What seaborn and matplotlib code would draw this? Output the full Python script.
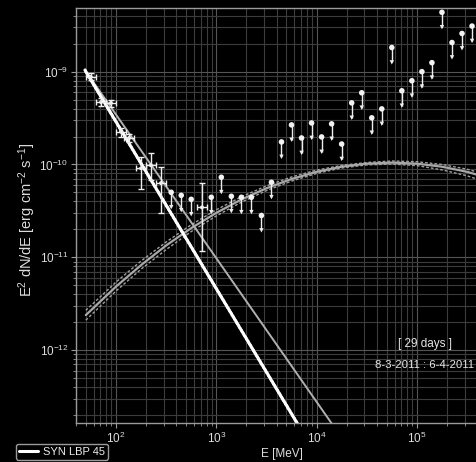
import numpy as np
import pandas as pd
import matplotlib
matplotlib.use("Agg")
import matplotlib.pyplot as plt
import seaborn as sns

# ---- spectral points: energy [MeV], E^2 dN/dE [erg cm^-2 s^-1] ----
det_E = [56, 71, 89, 112, 135, 178, 223, 281, 720]
det_E_lo = [50, 63, 79, 100, 120, 159, 199, 250, 642]
det_E_hi = [63, 80, 100, 126, 151, 200, 250, 315, 808]
det_F = [8.8e-10, 4.7e-10, 4.6e-10, 2.25e-10, 1.93e-10, 9.1e-11, 9.8e-11, 6.3e-11, 3.45e-11]
det_F_lo = [8.1e-10, 4.3e-10, 4.2e-10, 2.0e-10, 1.73e-10, 5.5e-11, 6.8e-11, 3.0e-11, 1.18e-11]
det_F_hi = [9.6e-10, 5.15e-10, 5.0e-10, 2.5e-10, 2.15e-10, 1.2e-10, 1.32e-10, 9.4e-11, 6.3e-11]

# upper limits
ul_E = [355, 447, 562, 891, 1122, 1413, 1778, 2239, 2818, 3548, 4467, 5623, 7079,
        8913, 11220, 14125, 17783, 22387, 28184, 35481, 44668, 56234, 70795,
        89125, 112202, 141254, 177828, 223872, 281838, 354813]
ul_F = [5.01e-11, 4.65e-11, 4.21e-11, 4.43e-11, 7.28e-11, 4.54e-11, 4.43e-11,
        4.43e-11, 2.82e-11, 6.43e-11, 1.75e-10, 2.67e-10, 1.93e-10, 2.80e-10,
        1.98e-10, 2.74e-10, 1.66e-10, 4.61e-10, 5.92e-10, 3.18e-10, 3.97e-10,
        1.82e-9, 6.22e-10, 7.98e-10, 1.0e-9, 1.25e-9, 4.36e-9, 2.06e-9, 2.58e-9, 3.10e-9]

# ---- model components ----
syn_E = [49, 8400]
syn_F = [1.04e-9, 1.0e-13]
syn_F_hi = [1.076e-9, 1.035e-13]
syn_F_lo = [1.005e-9, 0.966e-13]

pl2_E = [49, 19300]
pl2_F = [1.04e-9, 1.0e-13]

ic_E = [50, 100, 178, 316, 562, 1000, 1778, 3162, 5623, 10000, 17783, 31623,
        56234, 100000, 177828, 316228, 562341]
ic_F = [2.38e-12, 4.83e-12, 8.24e-12, 1.34e-11, 2.06e-11, 3.01e-11, 4.19e-11,
        5.54e-11, 6.97e-11, 8.33e-11, 9.46e-11, 1.02e-10, 1.047e-10, 1.02e-10,
        9.46e-11, 8.33e-11, 6.97e-11]
ic_F_hi = [2.68e-12, 5.40e-12, 9.12e-12, 1.46e-11, 2.24e-11, 3.25e-11, 4.48e-11,
           5.88e-11, 7.33e-11, 8.69e-11, 9.77e-11, 1.05e-10, 1.09e-10, 1.07e-10,
           1.00e-10, 8.89e-11, 7.50e-11]
ic_F_lo = [2.10e-12, 4.33e-12, 7.45e-12, 1.21e-11, 1.89e-11, 2.79e-11, 3.92e-11,
           5.23e-11, 6.62e-11, 8.00e-11, 9.16e-11, 9.89e-11, 1.01e-10, 9.73e-11,
           8.75e-11, 7.55e-11, 6.15e-11]

sns.set_theme(style="dark")
plt.rcParams["font.family"] = ["Liberation Sans", "DejaVu Sans"]
plt.rcParams["mathtext.fontset"] = "custom"
plt.rcParams["mathtext.rm"] = "Liberation Sans"
plt.rcParams["mathtext.it"] = "Liberation Sans:italic"
plt.rcParams["mathtext.bf"] = "Liberation Sans:bold"

fig = plt.figure(figsize=(4.77, 4.62), dpi=100, facecolor="black")
ax = fig.add_axes([0.1593, 0.0851, 0.8638, 0.8970])
ax.set_facecolor("black")
ax.set_xscale("log")
ax.set_yscale("log")
ax.set_xlim(39.9, 5.12e5)
ax.set_ylim(1.65e-13, 4.82e-9)

ax.grid(True, which="major", color="#555555", lw=0.8)
ax.grid(True, which="minor", color="#3c3c3c", lw=0.8)
ax.set_axisbelow(True)

band = (0, (2.0, 1.4))

# inverse-Compton component with its band
sns.lineplot(x=ic_E, y=ic_F_hi, ax=ax, color="#a0a0a0", lw=1.0, linestyle=band,
             sort=False, estimator=None)
sns.lineplot(x=ic_E, y=ic_F_lo, ax=ax, color="#a0a0a0", lw=1.0, linestyle=band,
             sort=False, estimator=None)
sns.lineplot(x=ic_E, y=ic_F, ax=ax, color="#a8a8a8", lw=1.6,
             sort=False, estimator=None)

# second power law
sns.lineplot(x=pl2_E, y=pl2_F, ax=ax, color="#b0b0b0", lw=1.4,
             sort=False, estimator=None)

# synchrotron power law with its band
sns.lineplot(x=syn_E, y=syn_F_hi, ax=ax, color="white", lw=1.0, linestyle=band,
             sort=False, estimator=None)
sns.lineplot(x=syn_E, y=syn_F_lo, ax=ax, color="white", lw=1.0, linestyle=band,
             sort=False, estimator=None)
sns.lineplot(x=syn_E, y=syn_F, ax=ax, color="white", lw=2.2,
             sort=False, estimator=None, label="SYN LBP 45")

# detections with error bars
det_E_a = np.array(det_E, float)
det_F_a = np.array(det_F, float)
xerr = [det_E_a - np.array(det_E_lo), np.array(det_E_hi) - det_E_a]
yerr = [det_F_a - np.array(det_F_lo), np.array(det_F_hi) - det_F_a]
ax.errorbar(det_E_a, det_F_a, xerr=xerr, yerr=yerr, fmt="none", ecolor="#eeeeee",
            elinewidth=1.0, capsize=2.5, capthick=1.0, zorder=5)
sns.scatterplot(x=det_E, y=det_F, ax=ax, color="#eeeeee", s=8, marker="o",
                edgecolor="none", zorder=6, legend=False)

# upper limits: dot at the limit, stem and arrowhead below
ul_E_a = np.array(ul_E, float)
ul_F_a = np.array(ul_F, float)
ul_tip = ul_F_a * 10 ** -0.16
ax.vlines(ul_E_a, ul_tip, ul_F_a, color="#eeeeee", lw=1.0, zorder=5)
sns.scatterplot(x=ul_E_a, y=ul_F_a, ax=ax, color="#f2f2f2", s=16, marker="o",
                edgecolor="none", zorder=6, legend=False)
sns.scatterplot(x=ul_E_a, y=ul_tip, ax=ax, color="#eeeeee", s=10, marker="v",
                edgecolor="none", zorder=6, legend=False)

for side in ["left", "top", "bottom", "right"]:
    ax.spines[side].set_visible(True)
    ax.spines[side].set_color("#9a9a9a")
    ax.spines[side].set_linewidth(1.0)

ax.tick_params(axis="both", which="major", colors="#9a9a9a", labelcolor="#dddddd",
               labelsize=8.5, length=3.5, width=0.8, direction="out",
               bottom=True, left=True, pad=2)
ax.tick_params(axis="both", which="minor", colors="#9a9a9a", length=2, width=0.6,
               direction="out", bottom=True, left=True)

ax.set_xlabel("E [MeV]", color="#dddddd", fontsize=8.5, labelpad=1.5)
ax.set_ylabel(r"E$^2$ dN/dE [erg cm$^{-2}$ s$^{-1}$]", color="#dddddd",
              fontsize=10.5)
ax.yaxis.set_label_coords(-0.092, 0.49)

ax.text(0.847, 0.19, "[ 29 days ]", transform=ax.transAxes, ha="center",
        va="center", color="#e6e6e6", fontsize=8.5)
ax.text(0.847, 0.139, "8-3-2011 : 6-4-2011", transform=ax.transAxes, ha="center",
        va="center", color="#e6e6e6", fontsize=8.2)

leg = ax.legend(loc="upper left", bbox_to_anchor=(16 / 477, 1 - 444 / 462),
                bbox_transform=fig.transFigure, frameon=True, fontsize=8,
                handlelength=1.7, handletextpad=0.5, borderpad=0.25,
                borderaxespad=0)
leg.get_frame().set_facecolor("black")
leg.get_frame().set_edgecolor("#9a9a9a")
leg.get_frame().set_alpha(1.0)
for t in leg.get_texts():
    t.set_color("#eeeeee")

fig.savefig("out.png", dpi=100, facecolor="black")
